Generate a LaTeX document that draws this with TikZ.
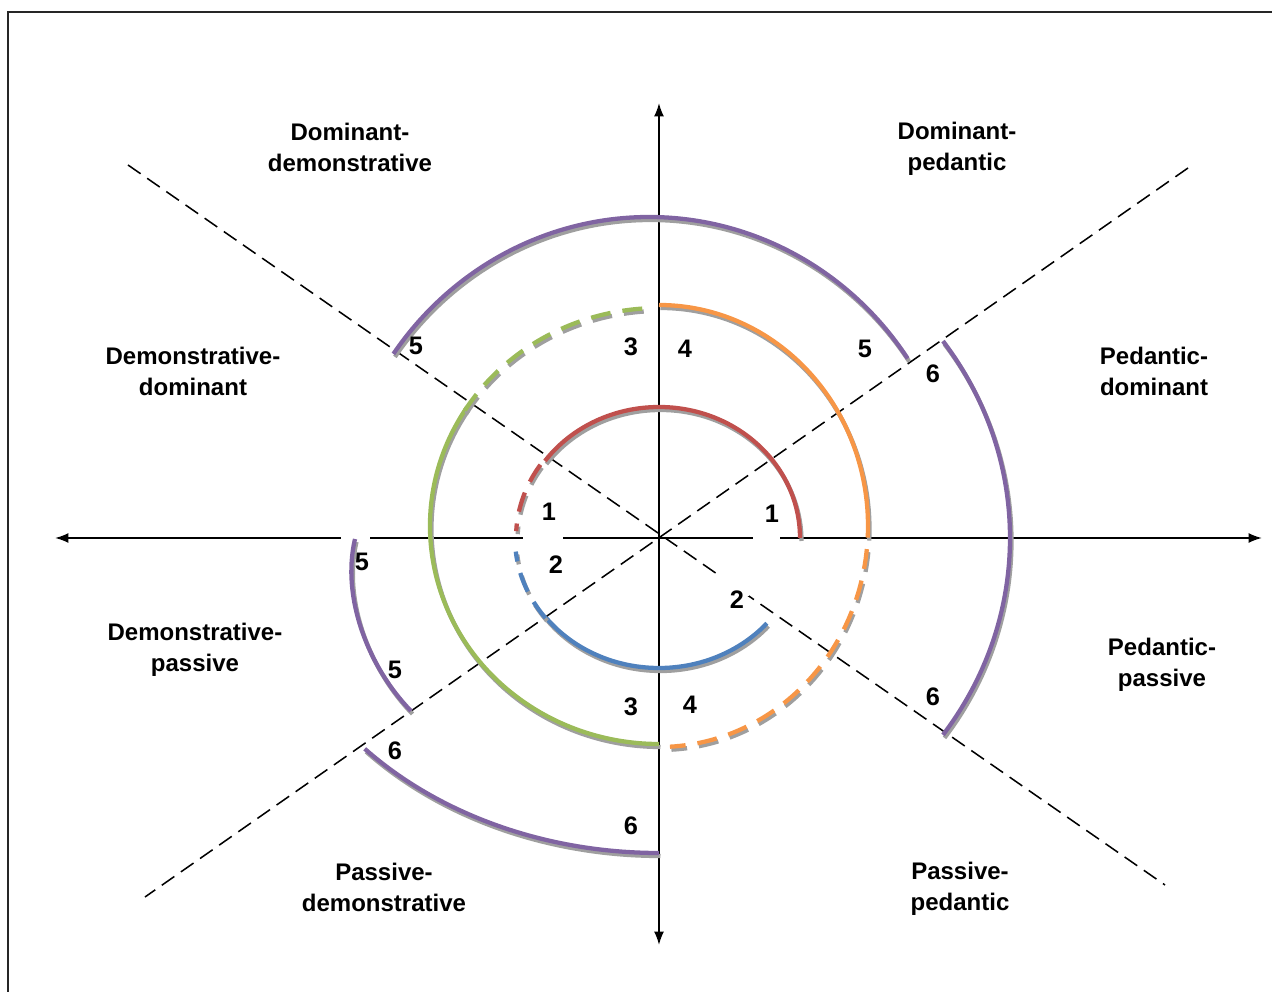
\documentclass[tikz,border=0pt]{standalone}
\usepackage{fontspec}
\setmainfont{Liberation Sans}
\usetikzlibrary{arrows.meta}
\definecolor{cred}{HTML}{C0504D}
\definecolor{cblue}{HTML}{4F81BD}
\definecolor{cgreen}{HTML}{9BBB59}
\definecolor{corange}{HTML}{F79646}
\definecolor{cpurple}{HTML}{8064A2}
% #1 colour, #2 extra style, #3 cx, #4 cy, #5 rx, #6 ry, #7 start, #8 end
\newcommand{\myarc}[8]{%
  \draw[arcshadow,#2] (#3+1.5,#4-3) ++(#7:#5 and #6) arc[start angle=#7,end angle=#8,x radius=#5,y radius=#6];
  \draw[arcline,draw=#1,#2] (#3,#4) ++(#7:#5 and #6) arc[start angle=#7,end angle=#8,x radius=#5,y radius=#6];
}
\begin{document}
\begin{tikzpicture}[x=0.75pt,y=0.75pt,
  arcline/.style={line width=3.2pt},
  arcshadow/.style={line width=3.2pt,draw=gray!75},
  arcdash/.style={dash pattern=on 15pt off 9pt},
  axisline/.style={line width=1.4pt,{Latex[length=10pt,width=7.5pt]}-{Latex[length=10pt,width=7.5pt]}},
  diag/.style={line width=1.15pt,dash pattern=on 11.5pt off 6pt},
  lab/.style={align=center,inner sep=0pt,font=\fontsize{18}{23.25}\selectfont\bfseries},
  num/.style={inner sep=0pt,font=\fontsize{19}{22}\selectfont\bfseries},
  gap/.style={fill=white,draw=none}]
\useasboundingbox (-659,-454) rectangle (613,538);
\draw[line width=1.8pt,draw=black!85] (-651,526) rectangle (700,-520);

% axes
\coordinate (xl) at (-604,0);
\coordinate (xr) at (603,0);
\coordinate (yt) at (0,435);
\coordinate (yb) at (0,-407);
\draw[axisline] (xl) -- (xr);
\draw[axisline] (yb) -- (yt);

% diagonals
\coordinate (d1a) at (-531,373);
\coordinate (d1b) at (506,-347);
\coordinate (d2a) at (529,370);
\coordinate (d2b) at (-514,-359);
\draw[diag] (d1a) -- (d1b);
\draw[diag] (d2a) -- (d2b);

% white gaps left by label boxes
\fill[gap] (94,-4) rectangle (121,4);
\fill[gap] (-136,-4) rectangle (-96,4);
\fill[gap] (-318,-4) rectangle (-289,4);
\fill[gap] (62,-36) rectangle (90,-58);

% arc 1 (red)
\myarc{cred}{}{0}{0}{141}{131}{0}{144}
\myarc{cred}{arcdash}{0}{0}{143}{131}{146}{177}
% arc 2 (blue)
\myarc{cblue}{}{0}{0}{143}{130}{-41}{-142}
\myarc{cblue}{arcdash}{0}{0}{144}{130}{218}{186}
% arc 3 (green)
\myarc{cgreen}{}{0}{12}{229}{218}{147}{270}
\myarc{cgreen}{arcdash}{0}{12}{229}{218}{148}{92}
% arc 4 (orange)
\myarc{corange}{}{0}{12}{209}{221}{90}{-3}
\myarc{corange}{arcdash}{0}{12}{209}{221}{-6}{-87}
% arc 5 (purple, top)
\myarc{cpurple}{}{-10}{0}{312}{321}{34}{145}
% arc 6 (purple, right)
\myarc{cpurple}{}{0}{0}{351}{335}{36}{-36}
% arc 6 (purple, bottom left)
\myarc{cpurple}{}{0}{0}{396}{315}{222}{270}
% arc 5 (purple, left small)
\draw[arcshadow] (-302.5,-4) .. controls (-316.5,-63) and (-288.5,-133) .. (-246.5,-176);
\draw[arcline,draw=cpurple] (-304,-1) .. controls (-318,-60) and (-290,-130) .. (-248,-173);

% sector labels
\node[lab] (ldd) at (-309,391) {Dominant-\\demonstrative};
\node[lab] (ldp) at (298,389) {Dominant-\\pedantic};
\node[lab] (lded) at (-466,167) {Demonstrative-\\dominant};
\node[lab] (lpd) at (495,167) {Pedantic-\\dominant};
\node[lab] (ldep) at (-464,-112) {Demonstrative-\\passive};
\node[lab] (lpp) at (503,-127) {Pedantic-\\passive};
\node[lab] (lpad) at (-275,-349) {Passive-\\demonstrative};
\node[lab] (lpap) at (301,-351) {Passive-\\pedantic};

% numbers
\node[num] (n1a) at (-110,26) {1};
\node[num] (n1b) at (113,24) {1};
\node[num] (n2a) at (-103,-27) {2};
\node[num] (n2b) at (78,-62) {2};
\node[num] (n3a) at (-28,191) {3};
\node[num] (n4a) at (26,189) {4};
\node[num] (n5a) at (-243,192) {5};
\node[num] (n5b) at (206,189) {5};
\node[num] (n6a) at (274,164) {6};
\node[num] (n6b) at (274,-159) {6};
\node[num] (n5c) at (-297,-24) {5};
\node[num] (n5d) at (-264,-132) {5};
\node[num] (n3b) at (-28,-169) {3};
\node[num] (n4b) at (31,-167) {4};
\node[num] (n6c) at (-264,-213) {6};
\node[num] (n6d) at (-28,-288) {6};
\end{tikzpicture}
\end{document}
